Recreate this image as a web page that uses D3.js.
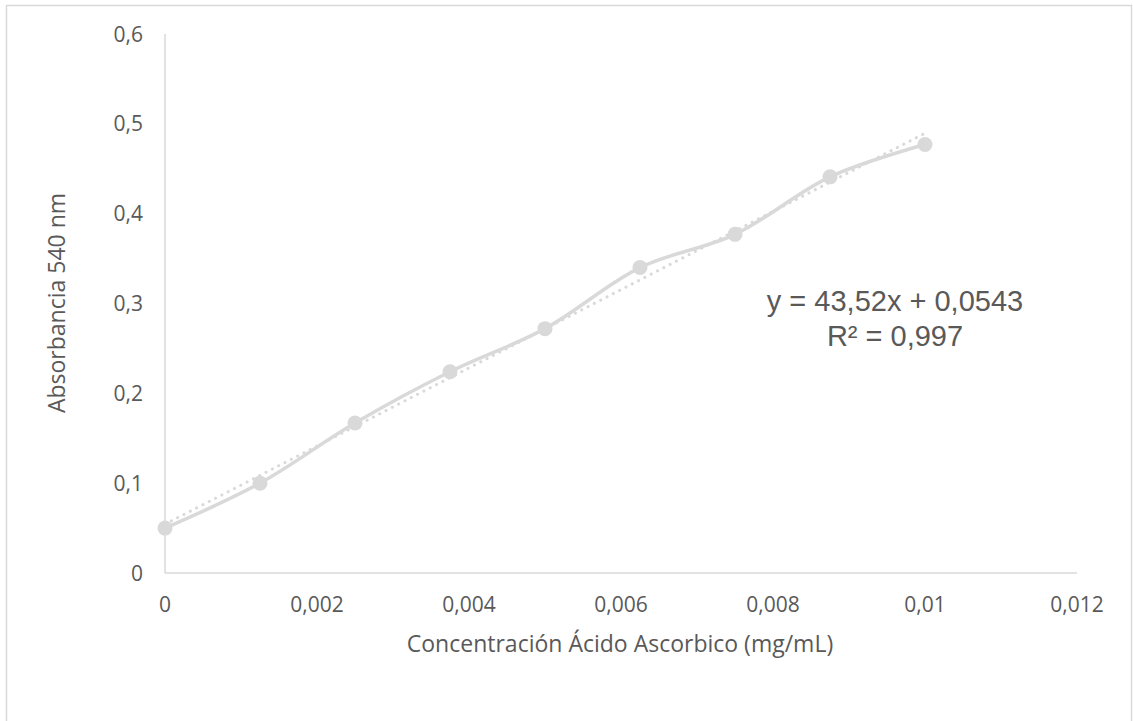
<!DOCTYPE html>
<html>
<head>
<meta charset="utf-8">
<script src="https://cdn.jsdelivr.net/npm/d3@7"></script>
<style>
  body { margin: 0; background: #fff; }
  text { font-family: "Open Sans", sans-serif; fill: #595959; }
</style>
</head>
<body>
<svg width="1133" height="721"></svg>
<script>
// calibration points
var conc = [0, 0.00125, 0.0025, 0.00375, 0.005, 0.00625, 0.0075, 0.00875, 0.01]
var absorb = [0.050, 0.100, 0.167, 0.224, 0.272, 0.340, 0.377, 0.441, 0.477]
var xTicks = [0, 0.002, 0.004, 0.006, 0.008, 0.01, 0.012]
var yTicks = [0, 0.1, 0.2, 0.3, 0.4, 0.5, 0.6]
var slope = 43.52, intercept = 0.0543

var svg = d3.select('svg')
var fmt = function (d) { return String(d).replace('.', ',') }

svg.append('rect')
  .attr('x', 6.5).attr('y', 5.5).attr('width', 1125).attr('height', 730)
  .attr('fill', 'none').attr('stroke', '#d9d9d9').attr('stroke-width', 1.5)

var x = d3.scaleLinear().domain([0, 0.012]).range([165, 1077])
  , y = d3.scaleLinear().domain([0, 0.6]).range([573, 34])

// axes
svg.append('line')
  .attr('x1', x(0)).attr('x2', x(0.012)).attr('y1', y(0)).attr('y2', y(0))
  .attr('stroke', '#d9d9d9').attr('stroke-width', 1.5)
svg.append('line')
  .attr('x1', x(0)).attr('x2', x(0)).attr('y1', y(0)).attr('y2', y(0.6))
  .attr('stroke', '#d9d9d9').attr('stroke-width', 1.5)

svg.selectAll('.xt').data(xTicks).enter().append('text')
  .attr('x', function (d) { return x(d) })
  .attr('y', 612)
  .attr('text-anchor', 'middle')
  .style('font-size', '21px')
  .text(fmt)

svg.selectAll('.yt').data(yTicks).enter().append('text')
  .attr('x', 143)
  .attr('y', function (d) { return y(d) + 7.5 })
  .attr('text-anchor', 'end')
  .style('font-size', '21px')
  .text(fmt)

svg.append('text')
  .attr('x', 620).attr('y', 652)
  .attr('text-anchor', 'middle')
  .style('font-size', '23px')
  .text('Concentración Ácido Ascorbico (mg/mL)')

svg.append('text')
  .attr('transform', 'translate(65,303) rotate(-90)')
  .attr('text-anchor', 'middle')
  .style('font-size', '23px')
  .text('Absorbancia 540 nm')

// trendline
svg.append('line')
  .attr('x1', x(0)).attr('y1', y(intercept))
  .attr('x2', x(0.01)).attr('y2', y(slope * 0.01 + intercept))
  .attr('stroke', '#d9d9d9').attr('stroke-width', 3)
  .attr('stroke-dasharray', '0.1 7').attr('stroke-linecap', 'round')

var pts = conc.map(function (c, i) { return [c, absorb[i]] })

svg.append('path')
  .datum(pts)
  .attr('d', d3.line().x(function (d) { return x(d[0]) }).y(function (d) { return y(d[1]) }).curve(d3.curveCatmullRom.alpha(0.5)))
  .attr('fill', 'none').attr('stroke', '#d9d9d9').attr('stroke-width', 3.5)

svg.selectAll('.pt').data(pts).enter().append('circle')
  .attr('cx', function (d) { return x(d[0]) })
  .attr('cy', function (d) { return y(d[1]) })
  .attr('r', 7.5)
  .attr('fill', '#d9d9d9')

var eq = svg.append('text')
  .attr('text-anchor', 'middle')
  .style('font-family', '"Liberation Sans", Arial, sans-serif')
  .style('font-size', '29px')
eq.append('tspan').attr('x', 895).attr('y', 311).text('y = ' + fmt(slope) + 'x + ' + fmt(intercept))
eq.append('tspan').attr('x', 895).attr('y', 346).text('R² = 0,997')
</script>
</body>
</html>
